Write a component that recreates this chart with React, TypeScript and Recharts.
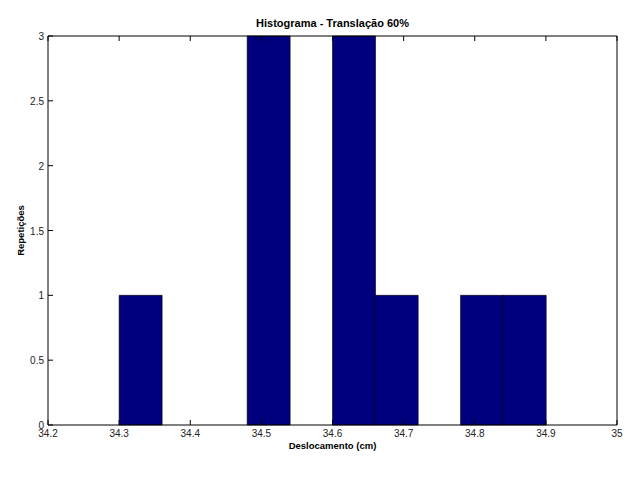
import { ComposedChart, Bar, XAxis, YAxis } from 'recharts';

const binCenters = [34.33, 34.39, 34.45, 34.51, 34.57, 34.63, 34.69, 34.75, 34.81, 34.87];
const counts = [1, 0, 0, 3, 0, 3, 1, 0, 1, 1];
const xTicks = [34.2, 34.3, 34.4, 34.5, 34.6, 34.7, 34.8, 34.9, 35];
const yTicks = [0, 0.5, 1, 1.5, 2, 2.5, 3];

const data = binCenters.map((c, i) => ({ x: c, count: counts[i] }));

const font = 'Arial, "Liberation Sans", sans-serif';

// inward tick marks, matlab style
const BottomTick = (props: any) => {
  const { x, y, payload } = props;
  return (
    <g>
      <line x1={x} x2={x} y1={y} y2={y - 5} stroke="#000" />
      <text x={x} y={y + 12} textAnchor="middle" fontSize={10} fill="#222" fontFamily={font}>
        {String(payload.value)}
      </text>
    </g>
  );
};

const TopTick = (props: any) => {
  const { x, y } = props;
  return <line x1={x} x2={x} y1={y} y2={y + 5} stroke="#000" />;
};

const LeftTick = (props: any) => {
  const { x, y, payload } = props;
  return (
    <g>
      <line x1={x} x2={x + 5} y1={y} y2={y} stroke="#000" />
      <text x={x - 4} y={y + 4} textAnchor="end" fontSize={10} fill="#222" fontFamily={font}>
        {String(payload.value)}
      </text>
    </g>
  );
};

const RightTick = (props: any) => {
  const { x, y } = props;
  return <line x1={x} x2={x - 5} y1={y} y2={y} stroke="#000" />;
};

export default function App() {
  return (
    <div style={{ position: 'absolute', left: 0, top: 0, width: 640, height: 480, background: '#fff' }}>
      <div
        style={{
          position: 'absolute',
          left: 48,
          width: 569,
          top: 17,
          textAlign: 'center',
          fontFamily: font,
          fontWeight: 'bold',
          fontSize: 11,
          color: '#000',
        }}
      >
        Histograma - Translação 60%
      </div>
      <ComposedChart
        width={640}
        height={480}
        data={data}
        margin={{ top: 35, right: 22, bottom: 0, left: 0 }}
        barCategoryGap={0}
        barGap={0}
      >
        <XAxis
          xAxisId="bottom"
          dataKey="x"
          type="number"
          domain={[34.2, 35]}
          ticks={xTicks}
          interval={0}
          allowDataOverflow
          height={55}
          tickSize={0}
          tickMargin={0}
          tick={<BottomTick />}
          axisLine={{ stroke: '#000' }}
          label={{
            value: 'Deslocamento (cm)',
            position: 'insideTop',
            offset: 17,
            fontSize: 9.5,
            fontWeight: 'bold',
            fill: '#000',
            fontFamily: font,
          }}
        />
        <XAxis
          xAxisId="top"
          dataKey="x"
          type="number"
          orientation="top"
          domain={[34.2, 35]}
          ticks={xTicks}
          interval={0}
          allowDataOverflow
          height={1}
          tickSize={0}
          tickMargin={0}
          tick={<TopTick />}
          axisLine={{ stroke: '#000' }}
        />
        <YAxis
          yAxisId="left"
          type="number"
          domain={[0, 3]}
          ticks={yTicks}
          interval={0}
          width={48}
          tickSize={0}
          tickMargin={0}
          tick={<LeftTick />}
          axisLine={{ stroke: '#000' }}
          label={{
            value: 'Repetições',
            angle: -90,
            position: 'insideLeft',
            offset: 21,
            fontSize: 9.5,
            fontWeight: 'bold',
            fill: '#000',
            fontFamily: font,
            style: { textAnchor: 'middle' },
          }}
        />
        <YAxis
          yAxisId="right"
          orientation="right"
          type="number"
          domain={[0, 3]}
          ticks={yTicks}
          interval={0}
          width={1}
          tickSize={0}
          tickMargin={0}
          tick={<RightTick />}
          axisLine={{ stroke: '#000' }}
        />
        <Bar
          xAxisId="bottom"
          yAxisId="left"
          dataKey="count"
          fill="#00007f"
          stroke="#000"
          strokeWidth={0.6}
          isAnimationActive={false}
        />
      </ComposedChart>
    </div>
  );
}
